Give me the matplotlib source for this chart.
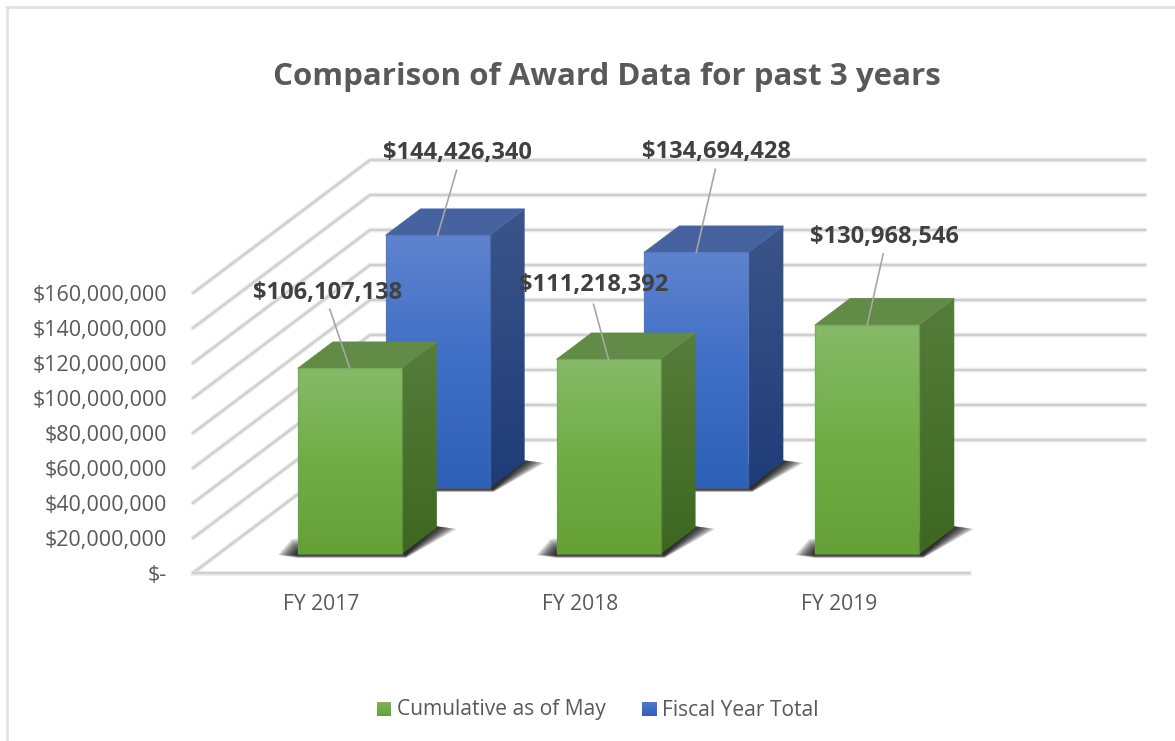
import numpy as np
import matplotlib.pyplot as plt
from matplotlib.colors import LinearSegmentedColormap
from matplotlib.patches import Polygon

plt.rcParams['font.family'] = ['Open Sans', 'DejaVu Sans']

# data
years = ['FY 2017', 'FY 2018', 'FY 2019']
cumulative = [106107138, 111218392, 130968546]
fiscal_total = [144426340, 134694428, None]
axis_ticks = [0, 20e6, 40e6, 60e6, 80e6, 100e6, 120e6, 140e6, 160e6]
axis_labels = ['$-', '$20,000,000', '$40,000,000', '$60,000,000', '$80,000,000',
               '$100,000,000', '$120,000,000', '$140,000,000', '$160,000,000']

# projection of the fake 3d box to picture pixels
X0, Y0 = 193, 573
DX, DY = 177, -133
SLOT = 258.7
PX_PER_UNIT = 280 / 160e6
BAR_W = 104
BAR_OFFSET = 79.5
FRONT_D = 0.143
BACK_D = 0.639
DEPTH_D = 0.198


def project(slot, value, depth):
    x = X0 + slot * SLOT + depth * DX
    y = Y0 - value * PX_PER_UNIT + depth * DY
    return x, y


def gradient_poly(ax, pts, stops, zorder):
    cmap = LinearSegmentedColormap.from_list('g', stops)
    xs = [p[0] for p in pts]
    ys = [p[1] for p in pts]
    grad = np.linspace(0, 1, 256).reshape(-1, 1)
    im = ax.imshow(grad, cmap=cmap, aspect='auto', zorder=zorder,
                   extent=(min(xs), max(xs), max(ys), min(ys)))
    patch = Polygon(pts, closed=True, transform=ax.transData, fc='none', ec='none')
    ax.add_patch(patch)
    im.set_clip_path(patch)


def shadow(ax, x0, x1, y_front, zorder):
    # soft shadow, stacked see-through polygons
    for g in np.linspace(20, 1, 14):
        pts = [(x0 - g, y_front + 1), (x0 - g * 0.3, y_front - g * 0.75), (x1 + 30, y_front - 28),
               (x1 + 35 + g, y_front - 28 + g * 0.15), (x1 + 4, y_front + 1 + g * 0.15),
               (x0, y_front + 1 + g * 0.15)]
        ax.add_patch(Polygon(pts, closed=True, fc='black', ec='none', alpha=0.11, zorder=zorder))


def draw_bar(ax, slot, value, depth, cols, zorder):
    x0, y0 = project(slot, 0, depth)
    x0 += BAR_OFFSET
    x1 = x0 + BAR_W
    ytop = y0 - value * PX_PER_UNIT
    dx = DEPTH_D * DX
    dy = DEPTH_D * DY
    shadow(ax, x0, x1, y0, zorder)
    gradient_poly(ax, [(x1, ytop), (x1 + dx, ytop + dy), (x1 + dx, y0 + dy), (x1, y0)],
                  cols['side'], zorder + 1)
    ax.add_patch(Polygon([(x0, ytop), (x1, ytop), (x1 + dx, ytop + dy), (x0 + dx, ytop + dy)],
                         closed=True, fc=cols['top'], ec=cols['top'], lw=0.6, zorder=zorder + 1))
    gradient_poly(ax, [(x0, ytop), (x1, ytop), (x1, y0), (x0, y0)], cols['front'], zorder + 2)
    ax.plot([x0, x1, x1, x0, x0], [ytop, ytop, y0, y0, ytop], color=cols['edge'], lw=1,
            alpha=0.6, zorder=zorder + 3)
    return x0, ytop


green = {'front': ['#86ba68', '#70ae45', '#64a036'], 'side': ['#567d3b', '#3d6720'],
         'top': '#628b47', 'edge': '#6f9f55'}
blue = {'front': ['#5f83ce', '#3e6ec6', '#2f60b7'], 'side': ['#3b558a', '#1e3c78'],
        'top': '#47639f', 'edge': '#5579bd'}

fig = plt.figure(figsize=(11.75, 7.41), dpi=100)
ax = fig.add_axes([0, 0, 1, 1])

# gridlines on floor side and back wall
for v in axis_ticks:
    xa, ya = project(0, v, 0)
    xb, yb = project(0, v, 1)
    ax.plot([xa, xb, 1145], [ya, yb, yb], color='#ececec', lw=3.4, zorder=1,
            solid_joinstyle='miter', solid_capstyle='round')
    ax.plot([xa, xb, 1145], [ya, yb, yb], color='#cfcfcf', lw=1.6, zorder=1,
            solid_joinstyle='miter', solid_capstyle='round')
xa, ya = project(0, 0, 0)
ax.plot([xa, project(3, 0, 0)[0]], [ya, ya], color='#ececec', lw=3.4, zorder=1)
ax.plot([xa, project(3, 0, 0)[0]], [ya, ya], color='#cfcfcf', lw=1.6, zorder=1)

# bars, back row first
tops_blue = {}
tops_green = {}
for i, v in enumerate(fiscal_total):
    if v is not None:
        tops_blue[i] = draw_bar(ax, i, v, BACK_D, blue, 3)
for i, v in enumerate(cumulative):
    tops_green[i] = draw_bar(ax, i, v, FRONT_D, green, 8)

# axis labels
for v, lab in zip(axis_ticks, axis_labels):
    x, y = project(0, v, 0)
    ax.text(x - 26, y + 2.5, lab, ha='right', va='center', fontsize=15.5, color='#595959', zorder=20)
for i, lab in enumerate(years):
    x, y = project(i, 0, 0)
    ax.text(x + SLOT / 2 - 1, y + 31, lab, ha='center', va='center', fontsize=15.2, color='#595959', zorder=20)


def value_label(top, value, lead_dx, lead_dy, text_dx, text_dy):
    x, y = top
    ax.plot([x + 52, x + 52 + lead_dx], [y, y + lead_dy], color='#a6a6a6', lw=1.2, zorder=15)
    ax.text(x + 52 + text_dx, y + text_dy, f'${value:,.0f}', ha='center', va='center', fontsize=17,
            fontweight='bold', color='#404040', zorder=21)


# data labels with leader lines
label_pos_green = [(-20, -59, -22, -75), (-15, -55, -15, -74), (16, -71, 17, -88)]
label_pos_blue = [(19, -65, 20, -82), (19, -83, 20, -100)]
for i, v in enumerate(cumulative):
    value_label(tops_green[i], v, *label_pos_green[i])
for i, v in enumerate(fiscal_total):
    if v is not None:
        value_label(tops_blue[i], v, *label_pos_blue[i])

ax.text(607, 77, 'Comparison of Award Data for past 3 years', ha='center', va='center',
        fontsize=22.5, fontweight='bold', color='#595959')

# legend
gradient_poly(ax, [(377, 702), (391, 702), (391, 716), (377, 716)], ['#7cb45b', '#65a137'], 5)
ax.text(397, 710, 'Cumulative as of May', ha='left', va='center', fontsize=15.1, color='#595959')
gradient_poly(ax, [(642, 702), (657, 702), (657, 716), (642, 716)], ['#5379c8', '#2f60b7'], 5)
ax.text(662, 710, 'Fiscal Year Total', ha='left', va='center', fontsize=15.1, color='#595959')

# chart frame
ax.plot([6.5, 6.5], [741, 7], color='#e2e2e2', lw=2, zorder=30)
ax.plot([6.5, 1175], [7, 7], color='#e2e2e2', lw=2, zorder=30)

ax.set_xlim(0, 1175)
ax.set_ylim(741, 0)
ax.axis('off')
fig.savefig('out.png', dpi=100)
